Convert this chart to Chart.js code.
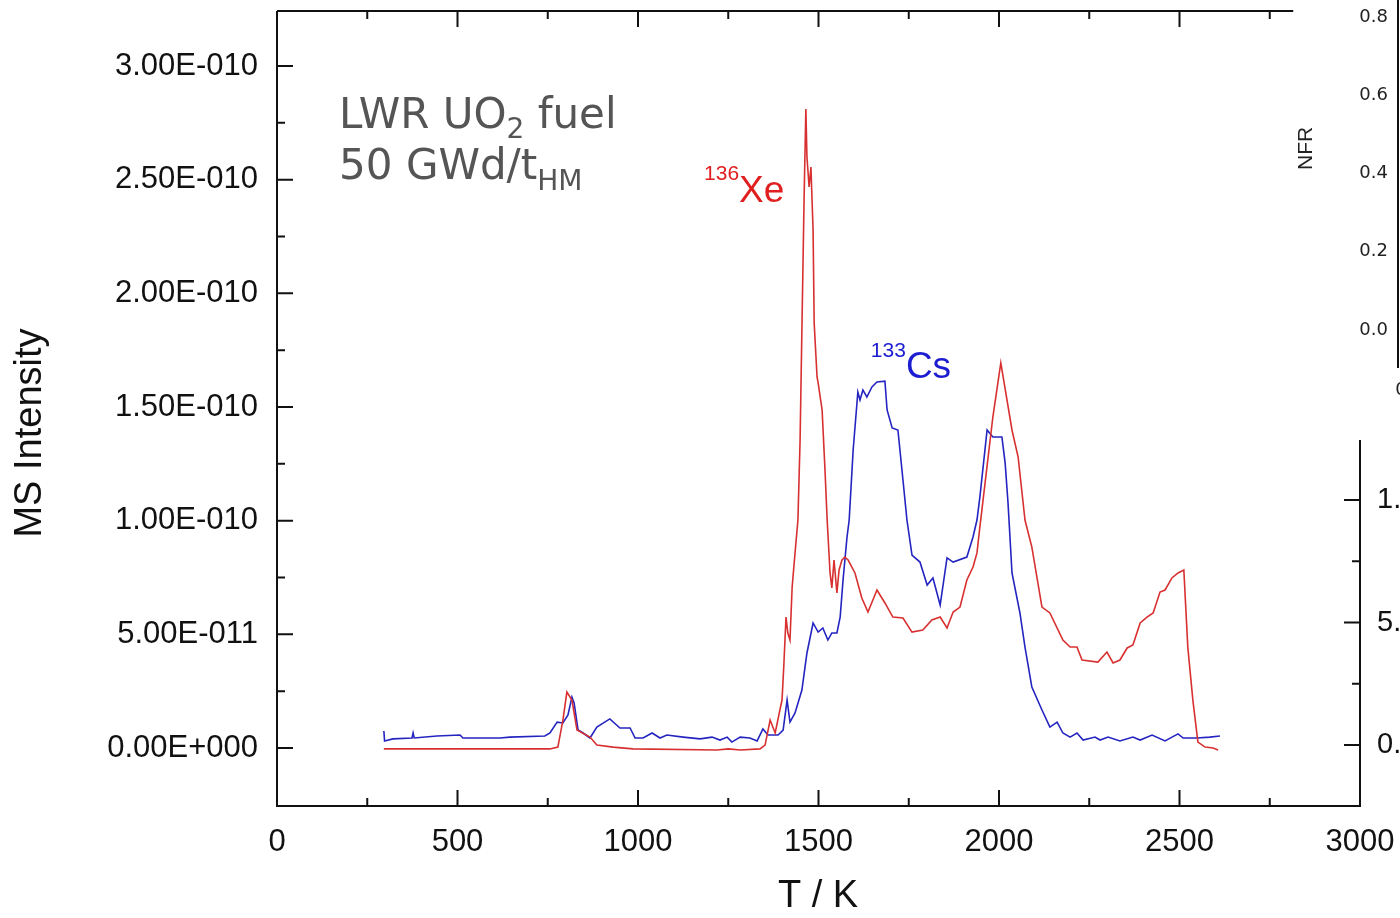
<!DOCTYPE html>
<html>
<head>
<meta charset="utf-8">
<script src="https://cdn.jsdelivr.net/npm/chart.js@4.4.1/dist/chart.umd.min.js"></script>
<style>
  html, body { margin: 0; padding: 0; background: #fff; }
</style>
</head>
<body>
<canvas id="myChart" width="1400" height="918"></canvas>
<script>
   // 136Xe release curve: temperature (K) and MS intensity (in 1E-10)
   const xeTemp = [296, 756, 778, 792, 803, 817, 831, 867, 886, 931, 986, 1219, 1250, 1283, 1338, 1352, 1366, 1380, 1393, 1399,
       1404, 1410, 1415, 1421, 1427, 1435, 1443, 1449, 1454, 1460, 1465, 1468, 1474, 1479, 1485, 1488, 1496, 1499, 1510, 1518,
       1524, 1532, 1537, 1543, 1551, 1557, 1565, 1573, 1582, 1601, 1620, 1637, 1662, 1684, 1706, 1734, 1759, 1789, 1814, 1837,
       1856, 1873, 1892, 1911, 1928, 1939, 1947, 1983, 2005, 2036, 2053, 2072, 2091, 2119, 2141, 2177, 2197, 2216, 2230, 2274,
       2299, 2316, 2335, 2355, 2371, 2391, 2410, 2427, 2446, 2460, 2479, 2496, 2512, 2523, 2537, 2551, 2571, 2593, 2607];
   const xeInt = [-0.004, -0.004, 0.004, 0.123, 0.246, 0.211, 0.079, 0.048, 0.013, 0.004, -0.004, -0.009, -0.004, -0.009, -0.004, 0.013, 0.123, 0.066, 0.167, 0.211,
       0.365, 0.576, 0.506, 0.475, 0.708, 0.858, 1.003, 1.355, 1.839, 2.411, 2.811, 2.600, 2.468, 2.556, 2.279, 1.870, 1.632, 1.606, 1.487, 1.223,
       1.003, 0.770, 0.704, 0.827, 0.682, 0.783, 0.827, 0.840, 0.827, 0.770, 0.660, 0.598, 0.695, 0.638, 0.576, 0.572, 0.510, 0.519, 0.563, 0.576,
       0.528, 0.598, 0.620, 0.739, 0.796, 0.858, 0.972, 1.456, 1.694, 1.399, 1.280, 1.003, 0.884, 0.620, 0.594, 0.475, 0.444, 0.444, 0.387, 0.378,
       0.422, 0.374, 0.387, 0.440, 0.453, 0.550, 0.576, 0.594, 0.686, 0.695, 0.748, 0.770, 0.783, 0.444, 0.211, 0.026, 0.004, 0.000, -0.009];

   // 133Cs release curve
   const csTemp = [296, 298, 321, 374, 377, 380, 443, 507, 515, 618, 645, 742, 756, 776, 792, 806, 817, 823, 834, 848,
       867, 886, 922, 950, 978, 992, 1014, 1039, 1061, 1080, 1125, 1172, 1205, 1227, 1247, 1260, 1283, 1310, 1330, 1346,
       1360, 1388, 1402, 1413, 1421, 1435, 1454, 1468, 1485, 1499, 1512, 1526, 1537, 1551, 1560, 1568, 1579, 1585, 1596, 1609,
       1615, 1623, 1634, 1648, 1662, 1684, 1690, 1704, 1720, 1734, 1745, 1759, 1781, 1801, 1817, 1837, 1856, 1873, 1911, 1928,
       1939, 1947, 1967, 1983, 2008, 2017, 2025, 2036, 2058, 2072, 2091, 2119, 2141, 2161, 2177, 2197, 2216, 2233, 2266, 2280,
       2302, 2335, 2371, 2391, 2424, 2460, 2496, 2510, 2548, 2584, 2612];
   const csInt = [0.075, 0.031, 0.040, 0.044, 0.066, 0.044, 0.053, 0.057, 0.044, 0.044, 0.048, 0.053, 0.066, 0.114, 0.110, 0.145, 0.224, 0.198, 0.079, 0.066,
       0.044, 0.092, 0.128, 0.088, 0.088, 0.044, 0.044, 0.066, 0.044, 0.057, 0.048, 0.040, 0.048, 0.035, 0.048, 0.026, 0.048, 0.044, 0.031, 0.084,
       0.057, 0.057, 0.079, 0.211, 0.114, 0.154, 0.255, 0.418, 0.550, 0.510, 0.528, 0.475, 0.506, 0.506, 0.576, 0.739, 0.928, 1.003, 1.311, 1.566,
       1.531, 1.575, 1.544, 1.588, 1.610, 1.614, 1.487, 1.408, 1.399, 1.179, 1.003, 0.849, 0.818, 0.717, 0.748, 0.629, 0.836, 0.818, 0.840, 0.928,
       1.003, 1.104, 1.399, 1.368, 1.368, 1.254, 1.078, 0.770, 0.594, 0.444, 0.268, 0.167, 0.092, 0.114, 0.066, 0.048, 0.066, 0.035, 0.048, 0.035,
       0.048, 0.031, 0.048, 0.035, 0.057, 0.031, 0.062, 0.044, 0.044, 0.048, 0.053];

   // axis ticks
   const xTicks = [0, 500, 1000, 1500, 2000, 2500, 3000];
   const xMinor = [250, 750, 1250, 1750, 2250, 2750];
   const yTicks = [0, 0.5, 1, 1.5, 2, 2.5, 3];
   const yMinor = [0.25, 0.75, 1.25, 1.75, 2.25, 2.75];
   const yTickLabels = ['0.00E+000', '5.00E-011', '1.00E-010', '1.50E-010', '2.00E-010', '2.50E-010', '3.00E-010'];

   // fragments of the neighbouring panels (cut off at the right edge)
   const sideTicks = [0, 0.5, 1];
   const sideMinor = [0.25, 0.75];
   const sideLabels = ['0.00E+000', '5.00E-011', '1.00E-010'];
   const nfrTicks = [0, 0.2, 0.4, 0.6, 0.8];
   const nfrLabels = ['0.0', '0.2', '0.4', '0.6', '0.8'];

   const SANS = "'Liberation Sans', Arial, sans-serif";

   function drawParts(ctx, parts, x, y, family, color) {
       ctx.fillStyle = color;
       ctx.textAlign = 'left';
       ctx.textBaseline = 'alphabetic';
       parts.forEach(p => {
           ctx.font = p[1] + 'px ' + family;
           ctx.fillText(p[0], x, y + p[2]);
           x += ctx.measureText(p[0]).width;
       });
   }

   const framePlugin = {
       id: 'frame',
       afterDraw(chart) {
           const ctx = chart.ctx;
           const a = chart.chartArea;
           const x = chart.scales.x, y = chart.scales.y, side = chart.scales.side, nfr = chart.scales.nfr;
           const topEnd = x.getPixelForValue(2815);
           const rightTop = side.getPixelForValue(1.245);
           ctx.save();
           ctx.strokeStyle = '#111';
           ctx.lineWidth = 2;
           ctx.beginPath();
           ctx.moveTo(a.left, a.top);
           ctx.lineTo(a.left, a.bottom);
           ctx.lineTo(a.right, a.bottom);
           ctx.lineTo(a.right, rightTop);
           ctx.moveTo(a.left, a.top);
           ctx.lineTo(topEnd, a.top);
           // left, bottom and top ticks (inward)
           yTicks.forEach(v => { const p = y.getPixelForValue(v); ctx.moveTo(a.left, p); ctx.lineTo(a.left + 16, p); });
           yMinor.forEach(v => { const p = y.getPixelForValue(v); ctx.moveTo(a.left, p); ctx.lineTo(a.left + 8, p); });
           xTicks.forEach(v => {
               const p = x.getPixelForValue(v);
               ctx.moveTo(p, a.bottom); ctx.lineTo(p, a.bottom - 16);
               if (p < topEnd) { ctx.moveTo(p, a.top); ctx.lineTo(p, a.top + 16); }
           });
           xMinor.forEach(v => {
               const p = x.getPixelForValue(v);
               ctx.moveTo(p, a.bottom); ctx.lineTo(p, a.bottom - 8);
               if (p < topEnd) { ctx.moveTo(p, a.top); ctx.lineTo(p, a.top + 8); }
           });
           // right fragment
           sideTicks.forEach(v => { const p = side.getPixelForValue(v); ctx.moveTo(a.right, p); ctx.lineTo(a.right - 16, p); });
           sideMinor.forEach(v => { const p = side.getPixelForValue(v); ctx.moveTo(a.right, p); ctx.lineTo(a.right - 8, p); });
           // NFR inset axis
           ctx.moveTo(1398, 0);
           ctx.lineTo(1398, nfr.getPixelForValue(-0.097));
           ctx.stroke();

           ctx.fillStyle = '#111';
           ctx.font = '29px ' + SANS;
           ctx.textAlign = 'left';
           ctx.textBaseline = 'middle';
           sideTicks.forEach((v, i) => ctx.fillText(sideLabels[i], a.right + 17, side.getPixelForValue(v)));

           ctx.fillStyle = '#222';
           ctx.font = "18px 'DejaVu Sans', sans-serif";
           ctx.textAlign = 'right';
           nfrTicks.forEach((v, i) => ctx.fillText(nfrLabels[i], 1388, nfr.getPixelForValue(v)));
           ctx.textAlign = 'center';
           ctx.fillText('0', 1401, nfr.getPixelForValue(-0.153));
           ctx.save();
           ctx.translate(1306, nfr.getPixelForValue(0.464));
           ctx.rotate(-Math.PI / 2);
           ctx.font = '21px ' + SANS;
           ctx.fillText('NFR', 0, 0);
           ctx.restore();

           // axis titles
           ctx.fillStyle = '#111';
           ctx.font = '38px ' + SANS;
           ctx.textAlign = 'center';
           ctx.fillText('T / K', 818, 897);
           ctx.save();
           ctx.translate(31, 433);
           ctx.rotate(-Math.PI / 2);
           ctx.fillText('MS Intensity', 0, 0);
           ctx.restore();

           // annotations
           const fam = "'DejaVu Sans', sans-serif";
           const lx = x.getPixelForValue(172);
           drawParts(ctx, [['LWR UO', 42, 0], ['2', 28, 10], [' fuel', 42, 0]], lx, y.getPixelForValue(2.727), fam, '#555');
           drawParts(ctx, [['50 GWd/t', 42, 0], ['HM', 28, 11]], lx, y.getPixelForValue(2.502), fam, '#555');
           drawParts(ctx, [['136', 21, 0], ['Xe', 37, 22]], x.getPixelForValue(1183), y.getPixelForValue(2.499), SANS, '#e02020');
           drawParts(ctx, [['133', 21, 0], ['Cs', 37, 21]], x.getPixelForValue(1645), y.getPixelForValue(1.720), SANS, '#1c1cd0');
           ctx.restore();
       }
   };

   const chartData = {
       datasets: [{
           label: '136Xe',
           data: xeTemp.map((t, i) => ({x: t, y: xeInt[i]})),
           borderColor: '#d83030',
           borderWidth: 1.6,
           showLine: true,
           pointRadius: 0,
           tension: 0
       }, {
           label: '133Cs',
           data: csTemp.map((t, i) => ({x: t, y: csInt[i]})),
           borderColor: '#2424c0',
           borderWidth: 1.6,
           showLine: true,
           pointRadius: 0,
           tension: 0
       }]
   };

   const config = {
       type: 'scatter',
       data: chartData,
       options: {
           responsive: false,
           animation: false,
           devicePixelRatio: 1,
           layout: { padding: { top: 11, right: 40, left: 0, bottom: 0 } },
           plugins: { legend: { display: false }, tooltip: { enabled: false } },
           scales: {
               x: {
                   type: 'linear',
                   min: 0,
                   max: 3000,
                   grid: { display: false, drawTicks: false },
                   border: { display: false },
                   afterBuildTicks: s => { s.ticks = xTicks.map(v => ({ value: v })); },
                   afterFit: s => { s.height = 112; s.paddingLeft = 0; s.paddingRight = 0; },
                   ticks: {
                       padding: 18,
                       maxRotation: 0,
                       autoSkip: false,
                       color: '#111',
                       font: { family: SANS, size: 31 },
                       callback: v => String(v)
                   }
               },
               y: {
                   type: 'linear',
                   min: -0.2551,
                   max: 3.242,
                   grid: { display: false, drawTicks: false },
                   border: { display: false },
                   afterBuildTicks: s => { s.ticks = yTicks.map(v => ({ value: v })); },
                   afterFit: s => { s.width = 277; s.paddingTop = 0; s.paddingBottom = 0; },
                   ticks: {
                       padding: 19,
                       autoSkip: false,
                       color: '#111',
                       font: { family: SANS, size: 31 },
                       callback: v => yTickLabels[yTicks.indexOf(v)]
                   }
               },
               side: { type: 'linear', position: 'right', display: false, min: -0.249, max: 2.996 },
               nfr: { type: 'linear', position: 'right', display: false, min: -1.2166, max: 0.8153 }
           }
       },
       plugins: [framePlugin]
   };

   new Chart(
       document.getElementById('myChart'),
       config
   );
</script>
</body>
</html>
